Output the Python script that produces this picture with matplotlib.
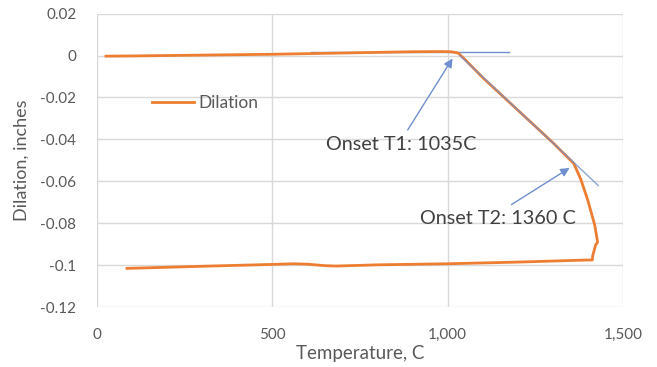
import matplotlib.pyplot as plt
from matplotlib.ticker import FuncFormatter

# heating curve (temperature C, dilation in)
heat_t = [25, 100, 200, 300, 400, 500, 600, 700, 800, 900, 980, 1010, 1030,
          1050, 1100, 1200, 1300, 1360, 1380, 1400, 1420, 1428]
heat_d = [-0.0003, -0.0002, 0.0, 0.0002, 0.0004, 0.0006, 0.0009, 0.0012, 0.0015,
          0.0018, 0.0019, 0.0018, 0.0012, -0.002, -0.0105, -0.026, -0.0415, -0.0515,
          -0.059, -0.069, -0.081, -0.089]

# cooling curve
cool_t = [1428, 1422, 1414, 1413, 1400, 1200, 1000, 800, 680, 650, 600, 560, 500, 300, 85]
cool_d = [-0.089, -0.0905, -0.0955, -0.0975, -0.0975, -0.0985, -0.0993, -0.0998,
          -0.1004, -0.1002, -0.0995, -0.0993, -0.0996, -0.1005, -0.1015]

# tangent construction lines
tan1_t = [610, 1175]
tan1_d = [0.0016, 0.0016]
tan2_t = [1035, 1430]
tan2_d = [0.0, -0.062]

xticks = [0, 500, 1000, 1500]
yticks = [0.02, 0, -0.02, -0.04, -0.06, -0.08, -0.1, -0.12]

orange = '#ED7D31'
blue = '#6F8FD0'
gray_txt = '#595959'

plt.rcParams['font.family'] = ['Lato', 'DejaVu Sans']

fig = plt.figure(figsize=(6.57, 3.67), dpi=100)
ax = fig.add_axes([0.148, 0.163, 0.8, 0.8])

ax.plot(tan1_t, tan1_d, color=blue, lw=1, zorder=2)
ax.plot(heat_t + cool_t, heat_d + cool_d, color=orange, lw=2, label='Dilation', zorder=3)
ax.plot(tan2_t, tan2_d, color=blue, lw=1, alpha=0.8, zorder=4)

ax.set_xlim(0, 1500)
ax.set_ylim(-0.12, 0.02)
ax.set_xticks(xticks)
ax.set_yticks(yticks)
ax.xaxis.set_major_formatter(FuncFormatter(lambda v, p: f'{v:,.0f}'))
ax.yaxis.set_major_formatter(FuncFormatter(lambda v, p: f'{v:g}'))
ax.grid(True, color='#d9d9d9', lw=1)
for s in ax.spines.values():
    s.set_visible(False)
ax.tick_params(length=0, labelsize=11, labelcolor=gray_txt)
ax.tick_params(axis='y', pad=15)
ax.tick_params(axis='x', pad=15)

ax.set_xlabel('Temperature, C', fontsize=13.5, color=gray_txt, labelpad=2)
ax.set_ylabel('Dilation, inches', fontsize=13, color=gray_txt, labelpad=8)

ax.legend(loc='center left', bbox_to_anchor=(0.075, 0.695), frameon=False,
          fontsize=12.5, handlelength=2.4, handletextpad=0.25, labelcolor=gray_txt)

arrow = dict(arrowstyle='-|>', color=blue, lw=1, mutation_scale=13, shrinkA=0, shrinkB=0)
ax.annotate('', xy=(1014, -0.0014), xytext=(886, -0.0355), arrowprops=arrow)
ax.annotate('', xy=(1348, -0.0536), xytext=(1182, -0.0711), arrowprops=arrow)
ax.text(869, -0.0425, 'Onset T1: 1035C', fontsize=14.3, color='#404040', ha='center', va='center')
ax.text(1143, -0.0775, 'Onset T2: 1360 C', fontsize=14.3, color='#404040', ha='center', va='center')

fig.savefig('out.png', dpi=100)
